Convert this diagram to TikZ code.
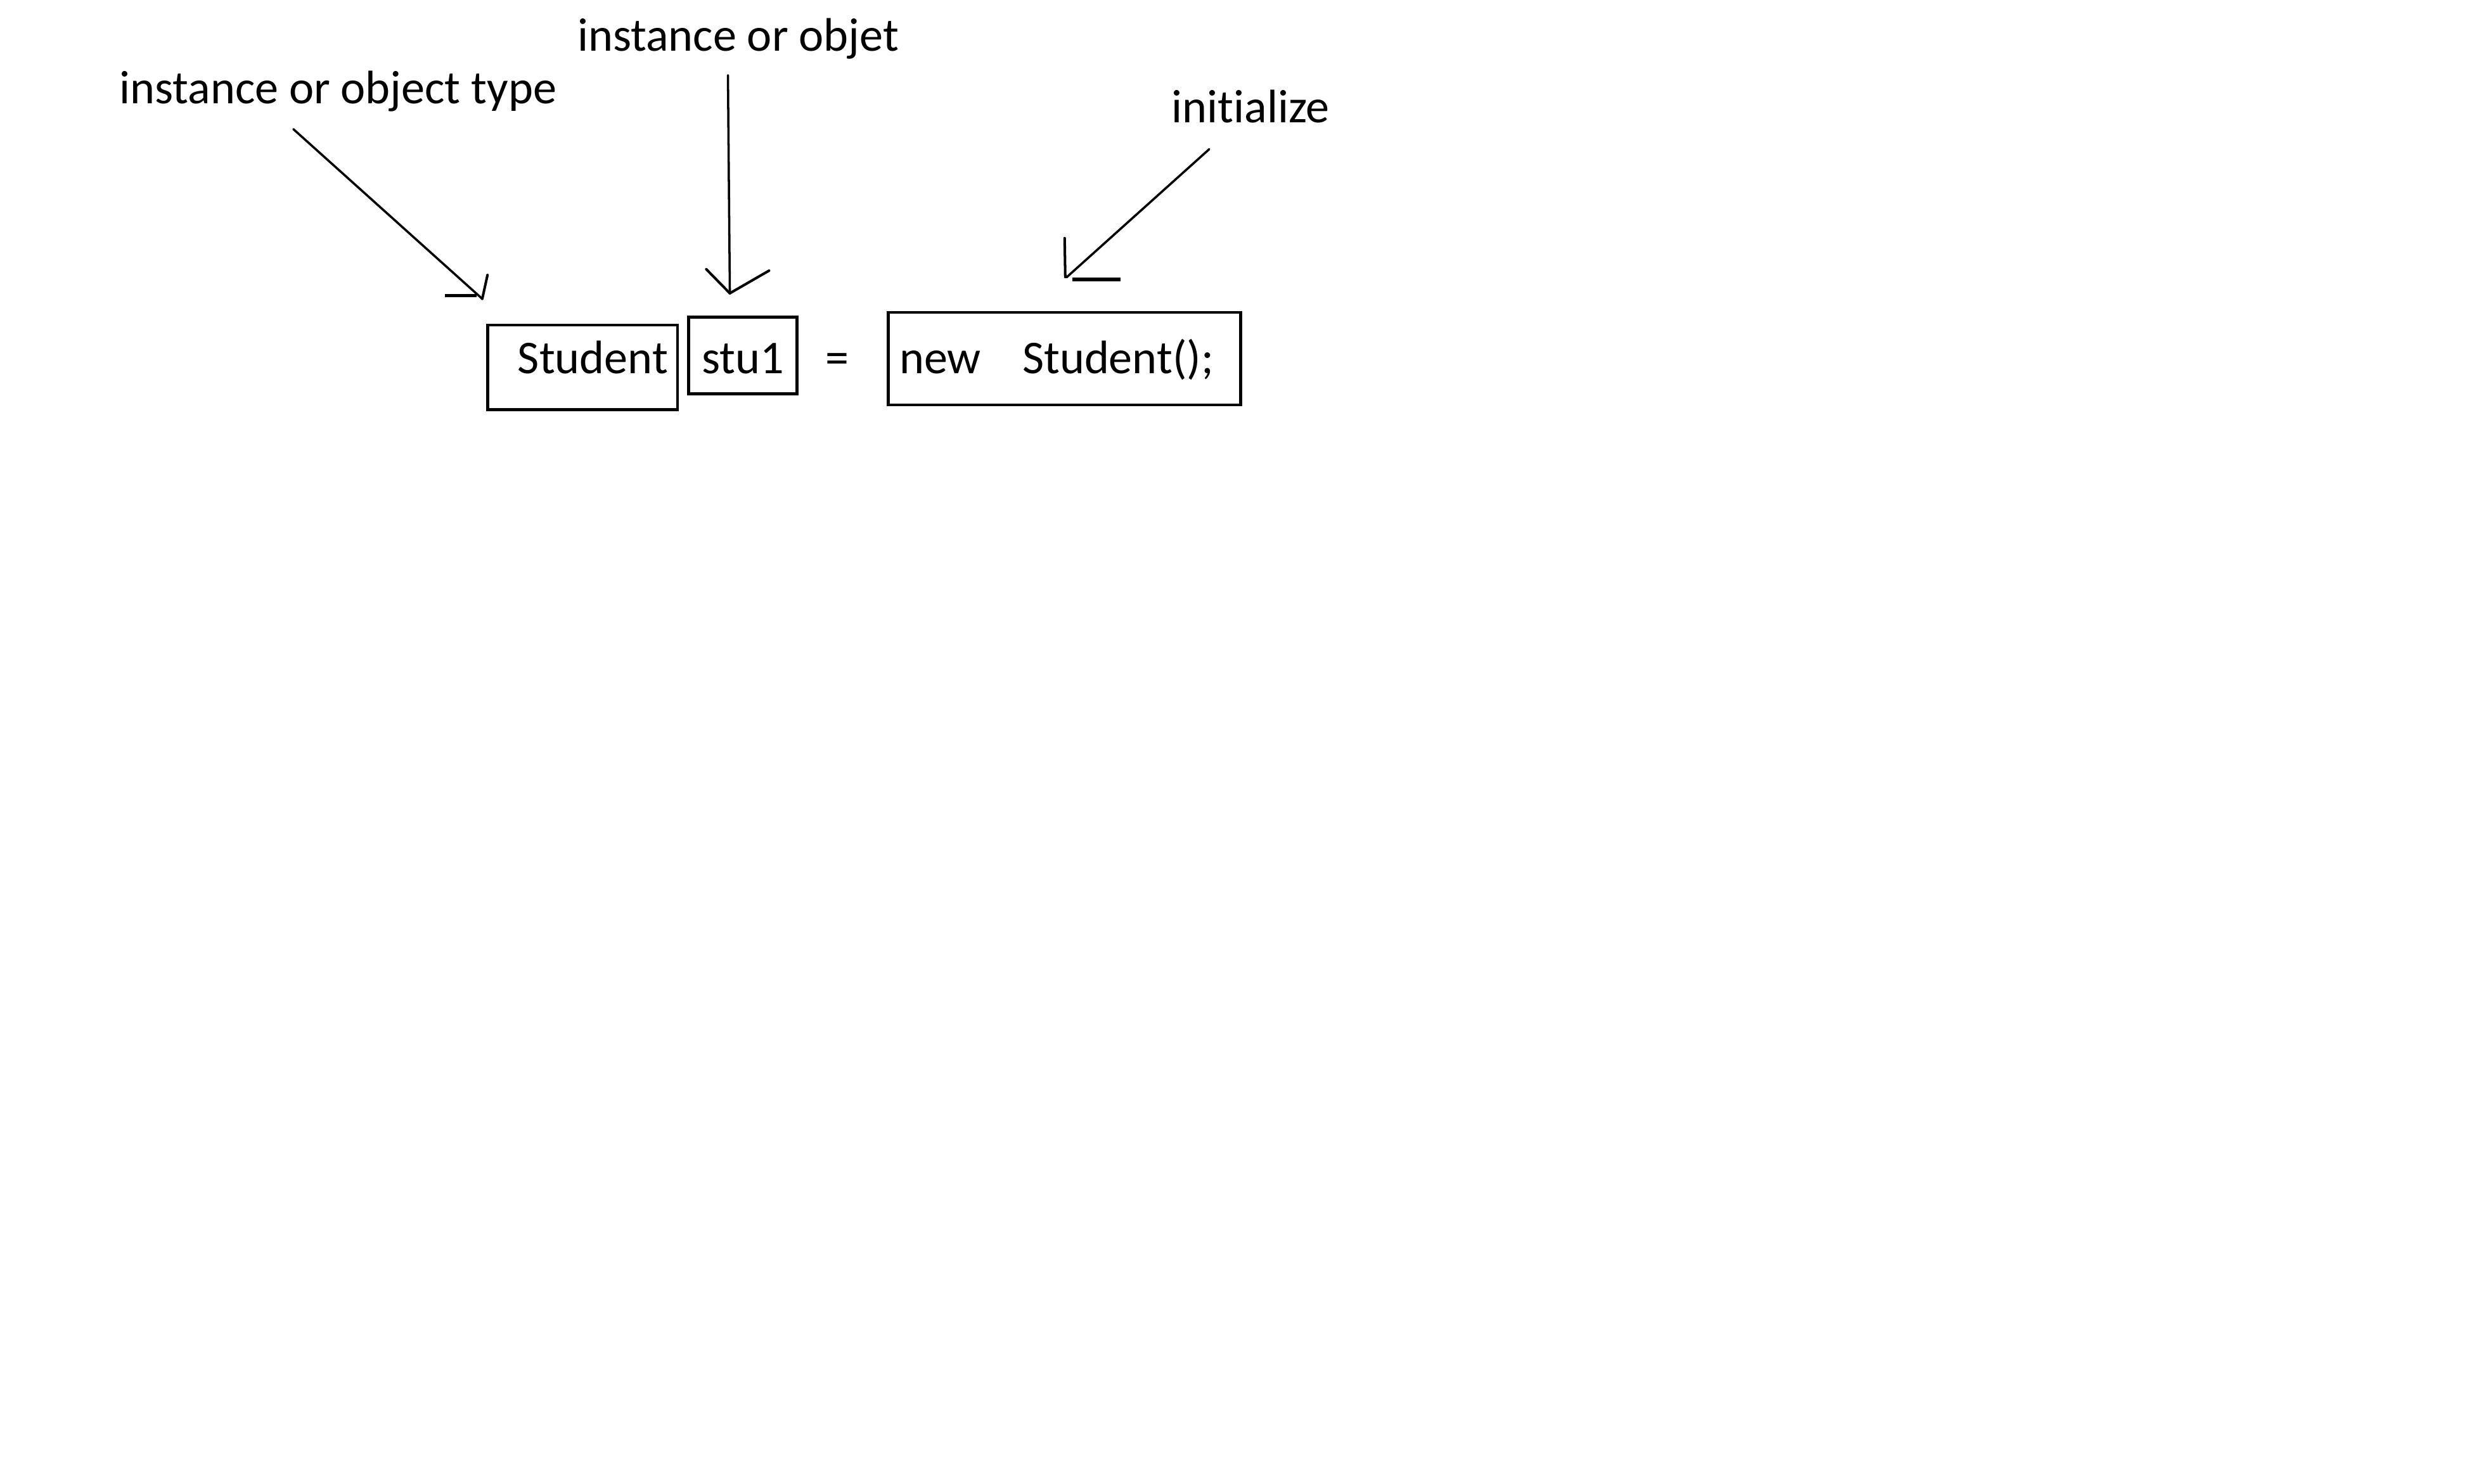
\documentclass[tikz,border=0pt]{standalone}
\usepackage{fontspec}
\setmainfont{Carlito}[Ligatures=NoCommon]
\usepackage{tikz}
\usetikzlibrary{positioning}
\tikzstyle{box} = [rectangle, draw, line width=1.8pt, inner xsep=6pt, inner ysep=0pt, outer sep=0pt]
\tikzstyle{lbl} = [inner sep=0pt, anchor=base]
\tikzstyle{pointer} = [line width=1.4pt, line cap=round]
\tikzstyle{barb} = [line width=1.6pt, line cap=round]
\tikzstyle{bar} = [line width=2.3pt]

\begin{document}
\begin{tikzpicture}[x=1pt, y=-1pt, font=\fontsize{29.5}{35}\selectfont]
\useasboundingbox (0,0) rectangle (1560,931);
\node [box, text width=107pt, align=right, text height=30.5pt, text depth=22.5pt, anchor=base west] (st) at (306,234.5) {Student};
\node [box, minimum width=68pt, text height=35.5pt, text depth=12.5pt] (var) [base right=7pt of st] {stu1};
\node [inner sep=0pt, outer sep=0pt] (eq) [base right=18pt of var] {=};
\node [box, inner xsep=7pt, text width=207pt, align=left, text height=38.5pt, text depth=19.5pt] (init) [base right=24.5pt of eq] {new\hspace{26pt}Student();};
\node [lbl] (typelbl) at (212,65) {instance or object type};
\node [lbl] (objlbl) at (463,32) {instance or objet};
\node [lbl] (initlbl) at (784.5,77) {initialize};
\coordinate (typefrom) at (184,81);
\coordinate (typeto) at (302.5,187.5);
\coordinate (objfrom) at (456.6,47.2);
\coordinate (objto) at (457.8,184);
\coordinate (initfrom) at (758.5,93.6);
\coordinate (initto) at (669,174);
\draw [pointer] (typefrom) -- (typeto);
\draw [barb] (typeto) -- ++(3.3,-15);
\draw [bar] (typeto) ++(-23.5,-2) -- ++(20,0);
\draw [pointer] (objfrom) -- (objto);
\draw [barb] (objto) -- ++(-14.8,-15.1);
\draw [barb] (objto) -- ++(24.6,-14.2);
\draw [pointer] (initfrom) -- (initto);
\draw [barb] (initto) ++(-0.8,-0.2) -- ++(-0.4,-24.4);
\draw [bar] (initto) ++(3.7,1.2) -- ++(30.3,0);
\end{tikzpicture}
\end{document}
